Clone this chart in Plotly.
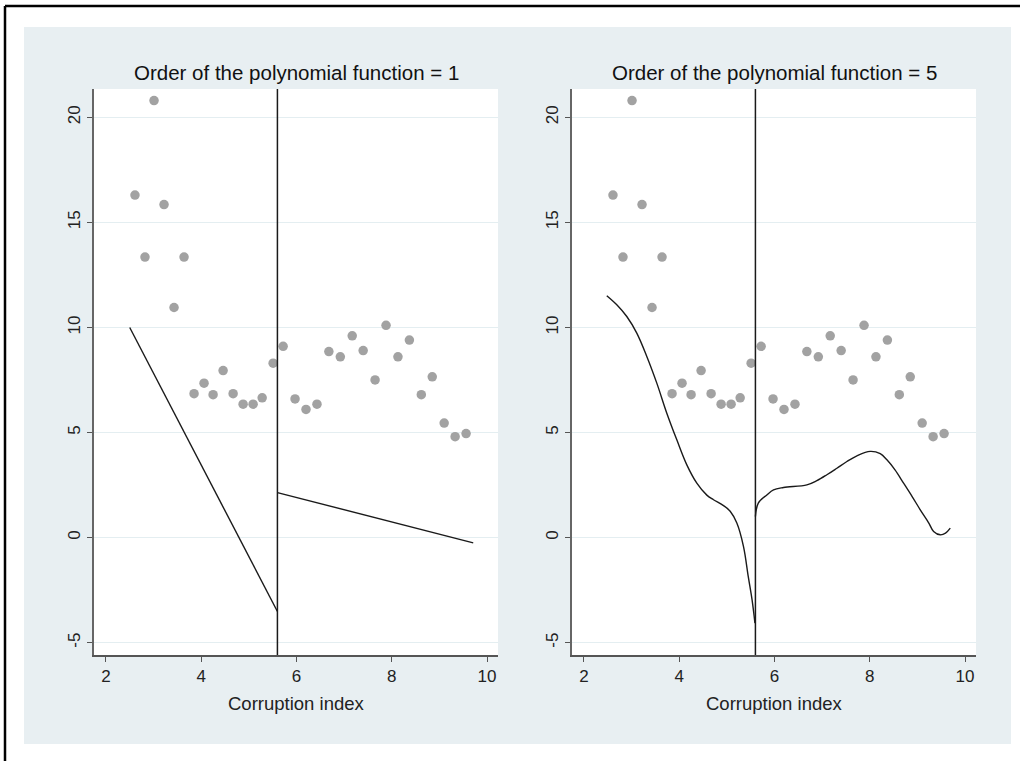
import plotly.graph_objects as go

# ---- data ----
corruption = [2.61, 2.82, 3.01, 3.22, 3.43, 3.64, 3.85, 4.06, 4.25, 4.46, 4.67,
              4.88, 5.09, 5.28, 5.51, 5.72, 5.97, 6.20, 6.43, 6.68, 6.92, 7.17,
              7.40, 7.65, 7.88, 8.13, 8.37, 8.62, 8.85, 9.10, 9.33, 9.56]
outcome = [16.3, 13.35, 20.8, 15.85, 10.95, 13.35, 6.85, 7.35, 6.8, 7.95, 6.85,
           6.35, 6.35, 6.65, 8.3, 9.1, 6.6, 6.1, 6.35, 8.85, 8.6, 9.6,
           8.9, 7.5, 10.1, 8.6, 9.4, 6.8, 7.65, 5.45, 4.8, 4.95]

cutoff = 5.6

# order 1 fit (left and right of cutoff)
lin_left_x = [2.5, 5.6]
lin_left_y = [10.0, -3.52]
lin_right_x = [5.6, 9.71]
lin_right_y = [2.14, -0.25]

# order 5 fit (left and right of cutoff)
poly_left_x = [2.48, 2.69, 2.90, 3.11, 3.32, 3.53, 3.74, 3.95, 4.16, 4.37, 4.58,
               4.72, 4.93, 5.07, 5.21, 5.35, 5.45, 5.53, 5.59]
poly_left_y = [11.51, 11.08, 10.52, 9.73, 8.62, 7.35, 5.92, 4.65, 3.46, 2.59, 2.02,
               1.80, 1.52, 1.25, 0.69, -0.43, -1.86, -2.97, -4.07]
poly_right_x = [5.60, 5.66, 5.84, 5.98, 6.19, 6.68, 6.89, 7.10, 7.31, 7.52, 7.73,
                8.01, 8.22, 8.36, 8.53, 8.71, 8.89, 9.06, 9.24, 9.34, 9.48, 9.59, 9.69]
poly_right_y = [1.00, 1.64, 2.03, 2.27, 2.38, 2.51, 2.71, 2.99, 3.30, 3.62, 3.89,
                4.10, 3.99, 3.70, 3.22, 2.59, 1.95, 1.32, 0.69, 0.29, 0.13, 0.21, 0.45]

titles = ["Order of the polynomial function = 1", "Order of the polynomial function = 5"]
x_title = "Corruption index"
x_ticks = [2, 4, 6, 8, 10]
y_ticks = [-5, 0, 5, 10, 15, 20]
y_ticklabels = ["-5", "0", "5", "10", "15", "20"]

# ---- figure ----
W, H = 1027, 761
FONT = "Liberation Sans, Arial, sans-serif"
MARK = "#a2a2a2"
LINE = "#1a1a1a"
REGION = "#e8eff2"

fig = go.Figure()

# background region (graph region) first, then white plot areas on top of it
fig.add_shape(type="rect", xref="paper", yref="paper", x0=24 / W, x1=1011 / W,
              y0=1 - 744 / H, y1=1 - 27 / H, fillcolor=REGION, line=dict(width=0),
              layer="below")

panels = [("x", "y", lin_left_x, lin_left_y, lin_right_x, lin_right_y),
          ("x2", "y2", poly_left_x, poly_left_y, poly_right_x, poly_right_y)]
for xa, ya, lx, ly, rx, ry in panels:
    fig.add_shape(type="rect", xref=xa + " domain", yref=ya + " domain", x0=0, x1=1,
                  y0=0, y1=1, fillcolor="white", line=dict(width=0), layer="below")
    fig.add_trace(go.Scatter(x=corruption, y=outcome, mode="markers", xaxis=xa, yaxis=ya,
                             marker=dict(color=MARK, size=9.5), showlegend=False))
    fig.add_trace(go.Scatter(x=lx, y=ly, mode="lines", xaxis=xa, yaxis=ya,
                             line=dict(color=LINE, width=1.4, shape="spline", smoothing=1.0),
                             showlegend=False))
    fig.add_trace(go.Scatter(x=rx, y=ry, mode="lines", xaxis=xa, yaxis=ya,
                             line=dict(color=LINE, width=1.4, shape="spline", smoothing=1.0),
                             showlegend=False))
    fig.add_shape(type="line", xref=xa, yref=ya + " domain", x0=cutoff, x1=cutoff,
                  y0=0, y1=1, line=dict(color=LINE, width=1.5), layer="above")

xr = [1.75, 10.23]
yr = [-5.59, 21.35]
ydom = [1 - 655 / H, 1 - 89 / H]
xdoms = [[94 / W, 498 / W], [572 / W, 976 / W]]

axis_common_x = dict(range=xr, tickvals=x_ticks, ticks="outside", ticklen=5,
                     tickcolor="#555555", showline=True, linecolor="#555555", linewidth=1.5,
                     showgrid=False, zeroline=False, tickfont=dict(size=17, color="#222222"))
axis_common_y = dict(range=yr, tickvals=y_ticks, ticktext=y_ticklabels, ticks="outside",
                     ticklen=5, tickcolor="#555555", showline=True, linecolor="#666666",
                     linewidth=2, showgrid=True, gridcolor="#e4eef1", gridwidth=1,
                     zeroline=False, tickangle=-90, tickfont=dict(size=17, color="#222222"),
                     domain=ydom)

fig.update_layout(
    width=W, height=H, autosize=False,
    margin=dict(l=0, r=0, t=0, b=0),
    paper_bgcolor="white", plot_bgcolor="white",
    font=dict(family=FONT, color="#222222"),
    xaxis=dict(axis_common_x, domain=xdoms[0], anchor="y"),
    yaxis=dict(axis_common_y, anchor="x"),
    xaxis2=dict(axis_common_x, domain=xdoms[1], anchor="y2"),
    yaxis2=dict(axis_common_y, anchor="x2"),
)

# frame lines
fig.add_shape(type="line", xref="paper", yref="paper", x0=5 / W, x1=1020 / W,
              y0=1 - 6 / H, y1=1 - 6 / H, line=dict(color="black", width=2.5))
fig.add_shape(type="line", xref="paper", yref="paper", x0=5 / W, x1=5 / W,
              y0=0, y1=1 - 6 / H, line=dict(color="black", width=2.5))

for i, t in enumerate(titles):
    cx = (xdoms[i][0] + xdoms[i][1]) / 2
    fig.add_annotation(text=t, xref="paper", yref="paper", x=cx, y=1 - 73 / H,
                       showarrow=False, xanchor="center", yanchor="middle",
                       font=dict(size=20.5, color="#111111", family=FONT))
    fig.add_annotation(text=x_title, xref="paper", yref="paper", x=cx, y=1 - 703 / H,
                       showarrow=False, xanchor="center", yanchor="middle",
                       font=dict(size=18.5, color="#222222", family=FONT))

fig.write_html("out.html", config={"displayModeBar": False},
               post_script="document.body.style.margin='0';document.body.style.overflow='hidden';")
